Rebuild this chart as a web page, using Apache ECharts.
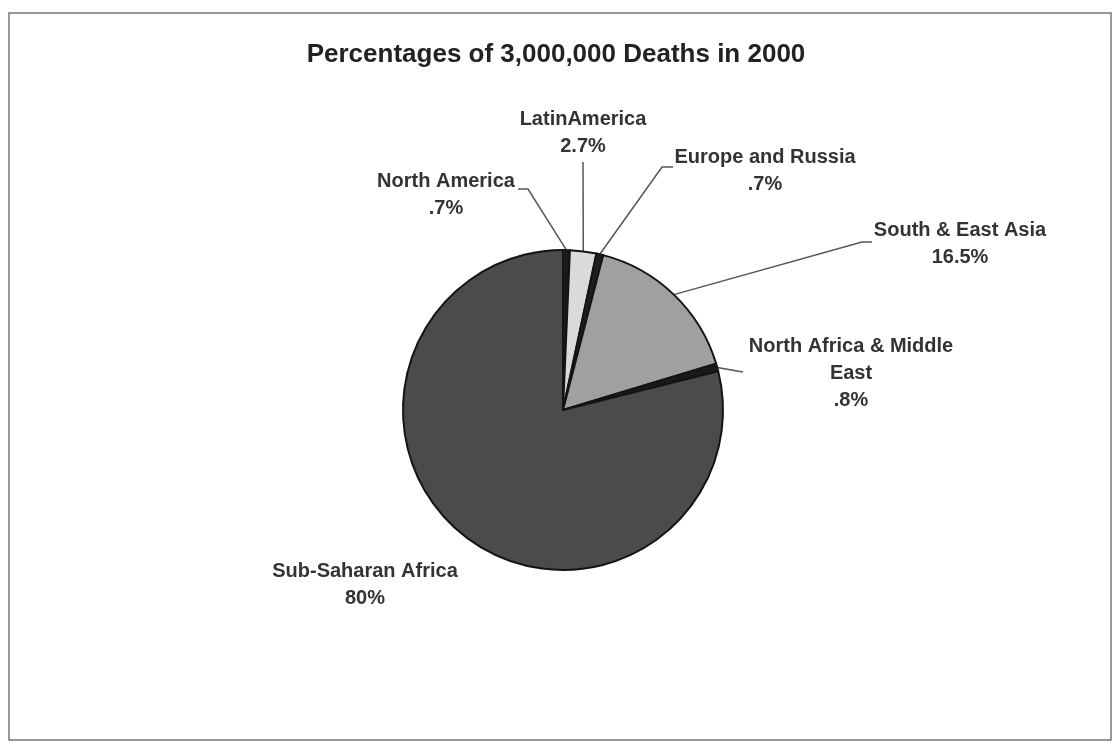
<!DOCTYPE html>
<html>
<head>
<meta charset="utf-8">
<script src="https://cdn.jsdelivr.net/npm/echarts@6/dist/echarts.min.js"></script>
<style>
html,body{margin:0;padding:0;background:#fff;}
#chart{width:1112px;height:744px;}
</style>
</head>
<body>
<div id="chart"></div>
<script>
// ---- data ----
const titleText = 'Percentages of 3,000,000 Deaths in 2000';
const regions = ['North America', 'LatinAmerica', 'Europe and Russia', 'South & East Asia', 'North Africa & Middle East', 'Sub-Saharan Africa'];
const percents = [0.7, 2.7, 0.7, 16.5, 0.8, 80];

// ---- styles (not data) ----
const sliceColors = ['#1a1a1a', '#dadada', '#1e1e1e', '#a0a0a0', '#1a1a1a', '#4b4b4b'];
// label anchor positions (center of text block) and leader-line elbow points
const labelPos = [
  {x: 446, y: 195, elbow: [[528, 189], [518, 189]]},
  {x: 583, y: 133, elbow: [[583, 162]]},
  {x: 765, y: 171, elbow: [[662, 167], [673, 167]]},
  {x: 960, y: 244, elbow: [[862, 242], [872, 242]]},
  {x: 851, y: 373, elbow: [[743, 372]]},
  {x: 365, y: 585, elbow: null}
];

function fmtPct(v) {
  return String(v).replace(/^0\./, '.') + '%';
}
function wrapName(n) {
  if (n.length <= 22) return n;
  const k = n.lastIndexOf(' ');
  return n.slice(0, k) + '\n' + n.slice(k + 1);
}

const chart = echarts.init(document.getElementById('chart'));
chart.setOption({
  backgroundColor: '#ffffff',
  animation: false,
  title: {
    text: titleText,
    left: 'center',
    top: 37,
    textStyle: {fontFamily: 'Liberation Sans, Arial, sans-serif', fontSize: 26, fontWeight: 'bold', color: '#222'}
  },
  graphic: [{
    type: 'rect',
    shape: {x: 9, y: 13, width: 1102, height: 727},
    style: {fill: 'none', stroke: '#777', lineWidth: 1.5},
    silent: true
  }],
  series: [{
    type: 'pie',
    center: [563, 410],
    radius: 160,
    startAngle: 90,
    clockwise: true,
    avoidLabelOverlap: false,
    minShowLabelAngle: 0,
    data: regions.map((n, i) => ({
      name: n,
      value: percents[i],
      itemStyle: {color: sliceColors[i]},
      labelLine: {show: i !== 5}
    })),
    itemStyle: {borderColor: '#141414', borderWidth: 2},
    label: {
      show: true,
      position: 'outside',
      formatter: p => wrapName(p.name) + '\n' + fmtPct(p.value),
      fontFamily: 'Liberation Sans, Arial, sans-serif',
      fontSize: 20,
      fontWeight: 'bold',
      color: '#333',
      lineHeight: 27,
      align: 'center'
    },
    labelLine: {
      show: true,
      length: 20,
      length2: 10,
      lineStyle: {color: '#555', width: 1.5}
    },
    labelLayout: function (params) {
      const lp = labelPos[params.dataIndex];
      const out = {x: lp.x, y: lp.y, align: 'center', verticalAlign: 'middle'};
      if (lp.elbow && params.labelLinePoints) {
        out.labelLinePoints = [params.labelLinePoints[0]].concat(lp.elbow);
      }
      return out;
    }
  }]
});
</script>
</body>
</html>
